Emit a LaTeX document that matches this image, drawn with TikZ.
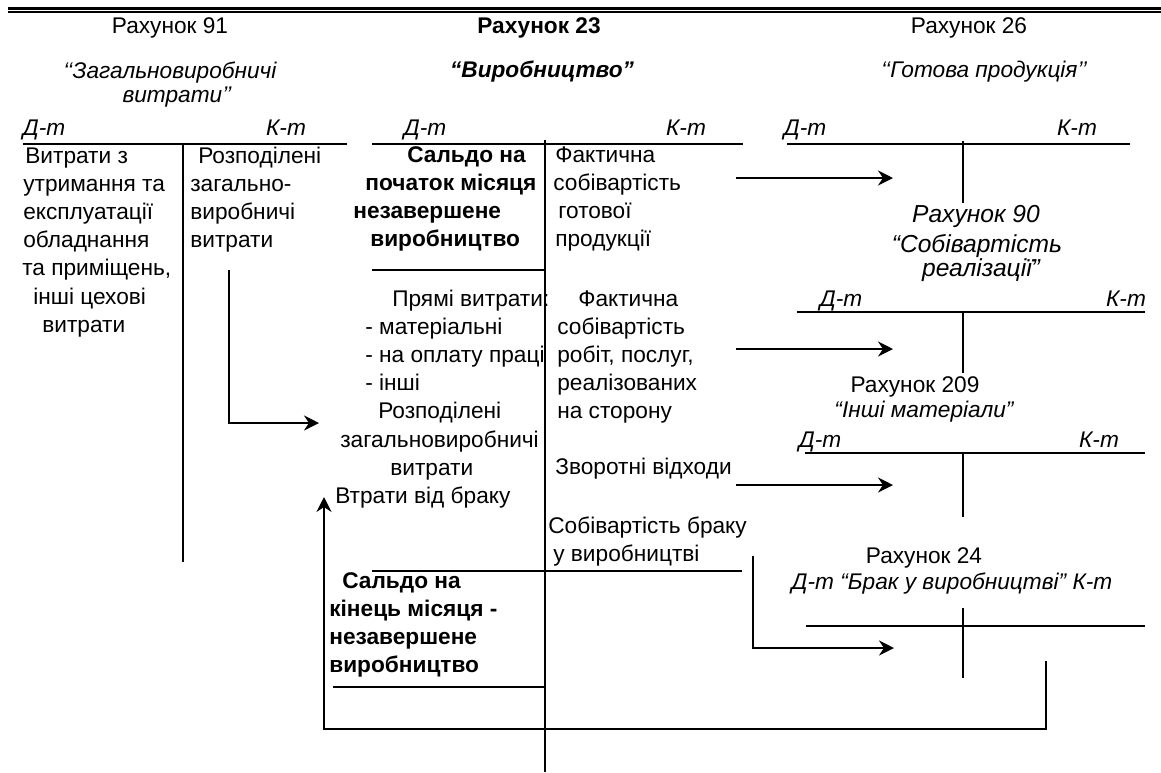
\documentclass[tikz,border=0pt]{standalone}
\usepackage{fontspec}
\setmainfont{Liberation Sans}
\usetikzlibrary{arrows.meta}

\tikzset{
  txt/.style={inner sep=0pt, align=left, anchor=north west,
    font=\fontsize{12.9}{16.05}\selectfont},
  ttl/.style={inner sep=0pt, anchor=base, font=\fontsize{12.9}{16.05}\selectfont},
  dk/.style={inner sep=0pt, anchor=base, font=\fontsize{12.9}{16.05}\selectfont\itshape},
  tline/.style={line width=0.85pt},
  arr/.style={line width=1.4pt, -{Stealth[length=3mm,width=3mm,inset=1mm]}},
}

\begin{document}
\begin{tikzpicture}[x=0.02cm, y=-0.02cm]
    \useasboundingbox (0,0) rectangle (1161,772);

    % top rule
    \draw[line width=1.55pt] (8,8.7) -- (1161,8.7);
    \draw[line width=0.85pt] (8,11.8) -- (1161,11.8);

    % headings
    \node[ttl] (h91) at (170,33) {Рахунок 91};
    \node[ttl, font=\fontsize{12.9}{16.05}\selectfont\bfseries] (h23) at (539,33) {Рахунок 23};
    \node[ttl] (h26) at (969,33) {Рахунок 26};
    \node[dk] (n91a) at (170,78) {‘‘Загальновиробничі};
    \node[dk] (n91b) at (177,102) {витрати’’};
    \node[dk, font=\fontsize{12.9}{16.05}\selectfont\bfseries\itshape] (n23) at (542,77) {“Виробництво”};
    \node[dk] (n26) at (984,77) {‘‘Готова продукція’’};

    % account 91
    \node[dk] (d91) at (44,135) {Д-т};
    \node[dk] (k91) at (286,135) {К-т};
    \draw[tline] (23,144) -- (347,144);
    \draw[tline] (183,144) -- (183,562);
    \node[txt] (deb91) at (22,143) {\strut\hspace{0.06cm}Витрати з\\
        \hspace{0.02cm}утримання та\\
        \hspace{0.02cm}експлуатації\\
        \hspace{0.02cm}обладнання\\
        та приміщень,\\
        \hspace{0.22cm}інші цехові\\
        \hspace{0.4cm}витрати};
    \node[txt] (cr91) at (190,143) {\strut\hspace{0.16cm}Розподілені\\загально-\\виробничі\\витрати};

    % account 23
    \node[dk] (d23) at (425,135) {Д-т};
    \node[dk] (k23) at (686,135) {К-т};
    \draw[tline] (372,144) -- (743,144);
    \draw[tline] (545,140) -- (545,772);
    \draw[tline] (372,270) -- (545,270);
    \draw[tline] (372,571) -- (742,571);
    \draw[tline] (333,687) -- (545,687);
    \node[txt, font=\fontsize{12.9}{16.05}\selectfont\bfseries] (sb23) at (353,142)
        {\strut\hspace{1.08cm}Сальдо на\\
        \hspace{0.24cm}початок місяця\\
        незавершене\\
        \hspace{0.34cm}виробництво};
    \node[txt] (fp23) at (553,142) {\strut\hspace{0.04cm}Фактична\\собівартість\\
        \hspace{0.1cm}готової\\\hspace{0.04cm}продукції};
    \node[txt] (pv23) at (335,286) {\strut\hspace{1.14cm}Прямі витрати:\\
        \hspace{0.6cm}- матеріальні\\
        \hspace{0.6cm}- на оплату праці\\
        \hspace{0.6cm}- інші\\
        \hspace{0.86cm}Розподілені\\
        \hspace{0.1cm}загальновиробничі\\
        \hspace{1.1cm}витрати\\
        Втрати від браку};
    \node[txt] (fr23) at (557,286) {\strut\hspace{0.42cm}Фактична\\собівартість\\
        робіт, послуг,\\реалізованих\\на сторону};
    \node[ttl, anchor=base west] (zv23) at (555,474) {Зворотні відходи};
    \node[txt] (br23) at (548,513) {\strut Собівартість браку\\\hspace{0.1cm}у виробництві};
    \node[txt, font=\fontsize{12.9}{16.05}\selectfont\bfseries] (se23) at (329,568)
        {\strut\hspace{0.26cm}Сальдо на\\
        кінець місяця -\\
        незавершене\\
        виробництво};

    % account 26
    \node[dk] (d26) at (805,135) {Д-т};
    \node[dk] (k26) at (1077,135) {К-т};
    \draw[tline] (787,144) -- (1130,144);
    \draw[tline] (963,141) -- (963,203);

    % account 90
    \node[dk, font=\fontsize{14}{17}\selectfont\itshape] (h90) at (976,222) {Рахунок 90};
    \node[dk, font=\fontsize{14}{17}\selectfont\itshape] (n90a) at (977,252) {“Собівартість};
    \node[dk, font=\fontsize{14}{17}\selectfont\itshape] (n90b) at (981,276) {реалізації”};
    \node[dk] (d90) at (841,306) {Д-т};
    \node[dk] (k90) at (1126,306) {К-т};
    \draw[tline] (797,312) -- (1145,312);
    \draw[tline] (963,312) -- (963,373);

    % account 209
    \node[ttl] (h209) at (915,392) {Рахунок 209};
    \node[dk] (n209) at (924,417) {“Інші матеріали”};
    \node[dk] (d209) at (820,447) {Д-т};
    \node[dk] (k209) at (1099,447) {К-т};
    \draw[tline] (805,453) -- (1145,453);
    \draw[tline] (963,453) -- (963,517);

    % account 24
    \node[ttl] (h24) at (924,563) {Рахунок 24};
    \node[dk] (n24) at (952,589) {Д-т “Брак у виробництві” К-т};
    \draw[tline] (806,626) -- (1145,626);
    \draw[tline] (963,608) -- (963,678);

    % arrows
    \coordinate (a1s) at (736,178);
    \coordinate (a1e) at (893,178);
    \coordinate (a2s) at (736,349);
    \coordinate (a2e) at (893,349);
    \coordinate (a3s) at (736,485);
    \coordinate (a3e) at (893,485);
    \coordinate (a4s) at (753,556);
    \coordinate (a4e) at (894,648);
    \coordinate (a5s) at (229,270);
    \coordinate (a5e) at (319,423);
    \coordinate (a6s) at (1046,661);
    \coordinate (a6m) at (1046,729);
    \coordinate (a6e) at (324,497);

    \draw[arr] (a1s) -- (a1e);
    \draw[arr] (a2s) -- (a2e);
    \draw[arr] (a3s) -- (a3e);
    \draw[arr] (a4s) |- (a4e);
    \draw[arr] (a5s) |- (a5e);
    \draw[tline, -{Stealth[length=3mm,width=3mm,inset=1mm]}] (a6s) -- (a6m) -| (a6e);
\end{tikzpicture}
\end{document}
